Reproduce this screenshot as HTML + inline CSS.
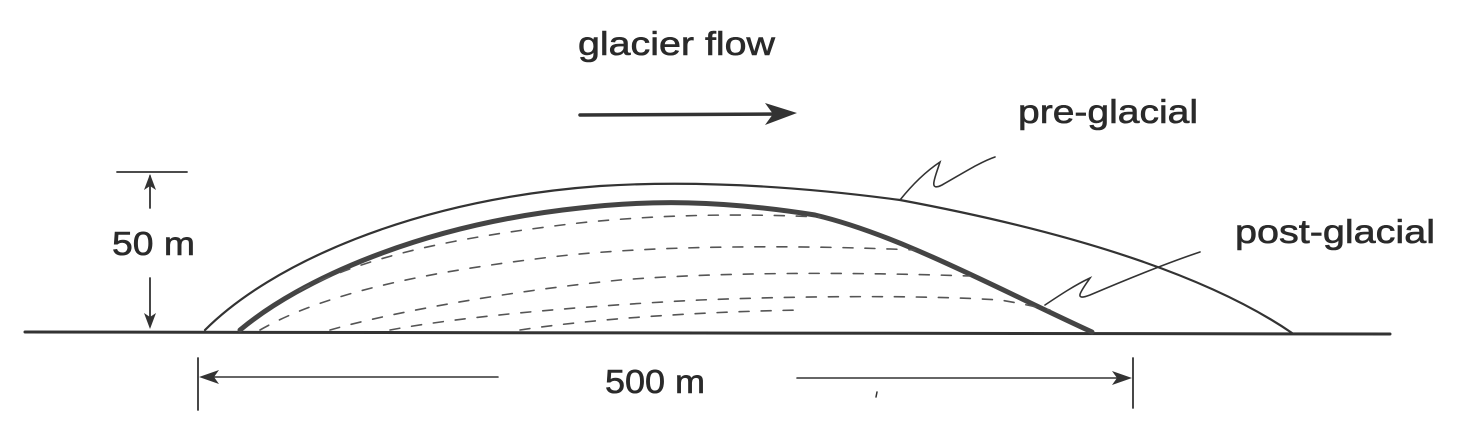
<!DOCTYPE html>
<html><head><meta charset="utf-8"><style>
html,body{margin:0;padding:0;background:#fff;}
svg{display:block;}
text{font-family:"Liberation Sans",sans-serif;fill:#2a2a2a;stroke:#2a2a2a;stroke-width:0.6;}
</style></head><body>
<svg width="1461" height="433" viewBox="0 0 1461 433" xmlns="http://www.w3.org/2000/svg">
<rect width="1461" height="433" fill="#fff"/>
<g fill="none" stroke="#333" stroke-linecap="round">
<line x1="25" y1="332" x2="1390" y2="334" stroke-width="3"/>
<path d="M205,330 C270,265 410,200 600,186 C680,181 780,184 900,200 C1050,228 1200,270 1292,333" stroke-width="2.2"/>
<path d="M240,330 C300,280 420,225 580,208 C650,200 720,200 815,215 C900,235 1000,290 1092,332" stroke-width="5" stroke="#444"/>
<g stroke-width="1.6" stroke-dasharray="10 12" stroke="#555">
<path d="M300,290 C380,250 480,235 570,224 C650,215 730,213 820,217"/>
<path d="M260,330 C330,290 440,270 560,256 C660,245 800,245 915,250"/>
<path d="M330,330 C400,310 520,290 620,280 C720,272 850,272 970,276"/>
<path d="M390,330 C470,315 600,305 700,300 C800,296 920,295 1000,300 C1030,305 1040,308 1050,310"/>
<path d="M520,330 C600,318 700,312 800,310"/>
</g>
<path d="M900,200 C912,185 925,172 940,162 C935,178 928,192 942,185 C960,175 980,162 995,157" stroke-width="1.6"/>
<path d="M1045,305 C1060,295 1075,285 1090,278 C1082,290 1072,302 1090,295 C1130,278 1170,262 1200,252" stroke-width="1.6"/>
<line x1="580" y1="115" x2="785" y2="114" stroke-width="3.5"/>
<line x1="117" y1="172" x2="187" y2="172" stroke-width="1.8"/>
<line x1="150" y1="176" x2="150" y2="208" stroke-width="1.8"/>
<line x1="150" y1="278" x2="150" y2="326" stroke-width="1.8"/>
<line x1="198" y1="358" x2="198" y2="410" stroke-width="1.8"/>
<line x1="1133" y1="358" x2="1133" y2="408" stroke-width="1.8"/>
<line x1="205" y1="377" x2="498" y2="377" stroke-width="1.6"/>
<line x1="797" y1="378" x2="1125" y2="378" stroke-width="1.6"/>
<line x1="877" y1="392" x2="876" y2="397" stroke-width="1.5"/>
</g>
<g fill="#333" stroke="none">
<path d="M797,113 L765,103 L773,114 L765,125 Z"/>
<path d="M150,174 L144,190 L150,186 L156,190 Z"/>
<path d="M150,329 L144,313 L150,317 L156,313 Z"/>
<path d="M199,377 L219,370 L214,377 L219,384 Z"/>
<path d="M1132,378 L1112,371 L1117,378 L1112,385 Z"/>
</g>
<text x="578" y="55" font-size="33" textLength="197" lengthAdjust="spacingAndGlyphs">glacier flow</text>
<text x="1018" y="123" font-size="33" textLength="180" lengthAdjust="spacingAndGlyphs">pre-glacial</text>
<text x="1235" y="243" font-size="33" textLength="200" lengthAdjust="spacingAndGlyphs">post-glacial</text>
<text x="112" y="255" font-size="33" textLength="83" lengthAdjust="spacingAndGlyphs">50 m</text>
<text x="605" y="393" font-size="33" textLength="100" lengthAdjust="spacingAndGlyphs">500 m</text>
</svg>
</body></html>
